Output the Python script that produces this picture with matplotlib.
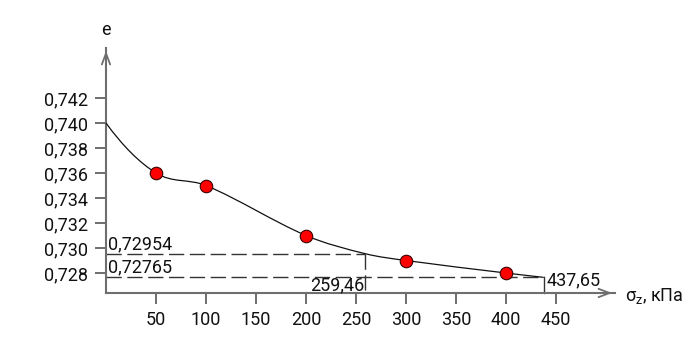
import matplotlib
matplotlib.use('Agg')
import matplotlib.pyplot as plt
from matplotlib.path import Path
from matplotlib.patches import PathPatch
from matplotlib.ticker import FuncFormatter

plt.rcParams['font.family'] = ['Roboto', 'DejaVu Sans']
plt.rcParams['font.weight'] = 'normal'

# ---- data ----
pressure = [50, 100, 200, 300, 400]            # sigma_z, kPa
void_ratio = [0.736, 0.735, 0.731, 0.729, 0.728]
e_start = 0.740                                 # e at sigma_z = 0
p_a, e_a = 259.46, 0.72954                      # marked point 1
p_b, e_b = 437.65, 0.72765                      # marked point 2
xticks = [50, 100, 150, 200, 250, 300, 350, 400, 450]
yticks = [0.728, 0.730, 0.732, 0.734, 0.736, 0.738, 0.740, 0.742]

# ---- figure ----
fig = plt.figure(figsize=(6.98, 3.6), dpi=100)
ax = fig.add_axes([0, 0, 1, 1])
ax.set_xlim(-106, 592)
ax.set_ylim(0.72104, 0.74984)

axis_color = '#6e6e6e'
text_color = '#111111'
x_axis_e = 0.7264
x_end = 509
y_end = 0.746

for s in ('top', 'right'):
    ax.spines[s].set_visible(False)
ax.spines['left'].set_position(('data', 0))
ax.spines['left'].set_bounds(x_axis_e, y_end)
ax.spines['bottom'].set_position(('data', x_axis_e))
ax.spines['bottom'].set_bounds(0, x_end)
for s in ('left', 'bottom'):
    ax.spines[s].set_color(axis_color)
    ax.spines[s].set_linewidth(1.5)

ax.set_xticks(xticks)
ax.set_yticks(yticks)
ax.xaxis.set_major_formatter(FuncFormatter(lambda v, _: f'{int(round(v))}'))
ax.yaxis.set_major_formatter(FuncFormatter(lambda v, _: f'{v:.3f}'.replace('.', ',')))
ax.tick_params(axis='both', direction='out', length=8, width=1.4,
               color=axis_color, labelsize=13, labelcolor=text_color, pad=5)

# arrows
arrow_kw = dict(arrowstyle='->,head_length=0.8,head_width=0.3',
                color=axis_color, lw=1.3)
ax.annotate('', xy=(x_end, x_axis_e), xytext=(x_end - 20, x_axis_e),
            arrowprops=arrow_kw)
ax.annotate('', xy=(0, y_end), xytext=(0, y_end - 0.0015),
            arrowprops=arrow_kw)

# ---- smooth curve (cubic Hermite through data nodes, as Bezier path) ----
cx = [0] + pressure[:3] + [p_a] + pressure[3:] + [p_b]
cy = [e_start] + void_ratio[:3] + [e_a] + void_ratio[3:] + [e_b]
n = len(cx)
sl = [(cy[i + 1] - cy[i]) / (cx[i + 1] - cx[i]) for i in range(n - 1)]
m = [0.0] * n
for i in range(1, n - 1):
    m[i] = (cy[i + 1] - cy[i - 1]) / (cx[i + 1] - cx[i - 1])
m[0] = 2 * sl[0] - m[1]
m[-1] = sl[-1]
verts = [(cx[0], cy[0])]
codes = [Path.MOVETO]
for i in range(n - 1):
    h = cx[i + 1] - cx[i]
    verts += [(cx[i] + h / 3, cy[i] + m[i] * h / 3),
              (cx[i + 1] - h / 3, cy[i + 1] - m[i + 1] * h / 3),
              (cx[i + 1], cy[i + 1])]
    codes += [Path.CURVE4] * 3
ax.add_patch(PathPatch(Path(verts, codes), fill=False, edgecolor='#111111',
                       lw=0.9, zorder=3))

# ---- dashed guide lines ----
dash_kw = dict(color='#333333', lw=1.0, dashes=(11, 4), zorder=2)
ax.plot([0, p_a], [e_a, e_a], **dash_kw)
ax.plot([p_a, p_a], [e_a, x_axis_e], **dash_kw)
ax.plot([0, p_b], [e_b, e_b], **dash_kw)
ax.plot([p_b, p_b], [e_b, x_axis_e], color='#333333', lw=1.0, zorder=2)

# ---- points ----
ax.plot(pressure, void_ratio, 'o', ms=9, mfc='#ff0000', mec='#3a0000',
        mew=0.8, zorder=4)

# ---- labels ----
fs = 13
ax.text(2, e_a + 0.00006, f'{e_a:.5f}'.replace('.', ','), ha='left',
        va='bottom', fontsize=fs, color=text_color)
ax.text(2, e_b + 0.00006, f'{e_b:.5f}'.replace('.', ','), ha='left',
        va='bottom', fontsize=fs, color=text_color)
ax.text(p_a - 1, 0.72700, f'{p_a:.2f}'.replace('.', ','), ha='right',
        va='center', fontsize=fs, color=text_color)
ax.text(p_b + 3, 0.72745, f'{p_b:.2f}'.replace('.', ','), ha='left',
        va='center', fontsize=fs, color=text_color)
ax.text(0, 0.74744, 'e', ha='center', va='center', fontsize=fs,
        color=text_color)
ax.text(519, 0.72615, r'$\mathregular{σ_z}$, кПа', ha='left', va='center',
        fontsize=fs, color=text_color)

fig.savefig('out.png', dpi=100)
